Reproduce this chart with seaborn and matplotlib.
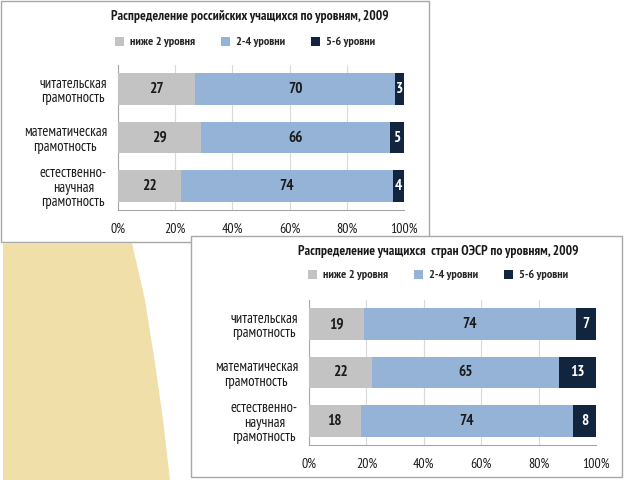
import matplotlib
matplotlib.use("Agg")
import matplotlib.pyplot as plt
import seaborn as sns
import pandas as pd
from matplotlib.patches import Rectangle, Polygon, Patch

# ---------------- data ----------------
categories = ["читательская\nграмотность",
              "математическая\nграмотность",
              "естественно-\nнаучная\nграмотность"]
level_names = ["ниже 2 уровня", "2-4 уровни", "5-6 уровни"]

russia_low = [27, 29, 22]
russia_mid = [70, 66, 74]
russia_high = [3, 5, 4]

oecd_low = [19, 22, 18]
oecd_mid = [74, 65, 74]
oecd_high = [7, 13, 8]

x_ticks = [0, 20, 40, 60, 80, 100]
x_tick_labels = ["0%", "20%", "40%", "60%", "80%", "100%"]

title_russia = "Распределение российских учащихся по уровням, 2009"
title_oecd = "Распределение учащихся  стран ОЭСР по уровням, 2009"

# ---------------- style ----------------
sns.set_style("white")
plt.rcParams["font.family"] = ["PT Sans Narrow", "Roboto Condensed",
                               "Liberation Sans", "DejaVu Sans"]

GREY = "#c3c3c3"
BLUE = "#95b3d7"
NAVY = "#11253f"
TEXT = "#1a1a1a"
AXCOL = "#a6a6a6"
GRID = "#d9d9d9"

W, H = 640, 480
fig = plt.figure(figsize=(W / 100, H / 100), dpi=100)


def fx(px):
    return px / W


def fy(py):
    return 1 - py / H


def add_box(x0, y0, x1, y1, z):
    r = Rectangle((fx(x0), fy(y1)), (x1 - x0) / W, (y1 - y0) / H,
                  transform=fig.transFigure, facecolor="white",
                  edgecolor="#a8a8a8", linewidth=1.0, zorder=z)
    fig.add_artist(r)


# panel frames and decoration
add_box(1, 1, 429, 242, -3)
beige = Polygon([(fx(3), fy(243)), (fx(132), fy(243)), (fx(145), fy(300)),
                 (fx(155), fy(363)), (fx(163), fy(420)), (fx(170), fy(480)),
                 (fx(3), fy(480))], closed=True, transform=fig.transFigure,
                facecolor="#f0dfa8", edgecolor="none", zorder=-2)
fig.add_artist(beige)
add_box(191, 236, 622, 477, -1)


def draw_panel(ax, low, mid, high):
    df = pd.DataFrame({"cat": categories, "low": low, "mid": mid, "high": high})
    df["c1"] = df["low"]
    df["c2"] = df["low"] + df["mid"]
    df["c3"] = df["c2"] + df["high"]
    for col, color in [("c3", NAVY), ("c2", BLUE), ("c1", GREY)]:
        sns.barplot(data=df, x=col, y="cat", orient="h", color=color,
                    saturation=1, width=0.66, linewidth=0, ax=ax, zorder=3)
    for i, r in df.iterrows():
        ax.text(r["low"] / 2, i, str(r["low"]), ha="center", va="center",
                fontsize=11, fontweight="bold", color=TEXT, zorder=5)
        ax.text(r["low"] + r["mid"] / 2, i, str(r["mid"]), ha="center", va="center",
                fontsize=11, fontweight="bold", color=TEXT, zorder=5)
        ax.text(r["c2"] + r["high"] / 2, i, str(r["high"]), ha="center", va="center",
                fontsize=11, fontweight="bold", color="white", zorder=5)
    ax.set_xlim(0, 100)
    ax.set_ylim(len(categories) - 0.5, -0.5)
    ax.set_xticks(x_ticks)
    ax.set_xticklabels(x_tick_labels, fontsize=10, color=TEXT)
    ax.set_yticks(range(len(categories)))
    ax.set_yticklabels(categories, fontsize=10.5, color=TEXT, linespacing=1.05)
    for t in ax.get_yticklabels():
        t.set_multialignment("center")
    ax.set_yticks([i - 0.5 for i in range(len(categories) + 1)], minor=True)
    ax.tick_params(axis="y", which="major", length=0, pad=8)
    ax.tick_params(axis="y", which="minor", length=4, width=0.8, color=AXCOL, direction="out")
    ax.tick_params(axis="x", which="major", length=4, width=0.8, color=AXCOL,
                   direction="out", pad=5)
    ax.set_xlabel("")
    ax.set_ylabel("")
    ax.set_axisbelow(True)
    ax.xaxis.grid(True, color=GRID, linewidth=0.8)
    ax.yaxis.grid(False)
    for s in ["top", "right"]:
        ax.spines[s].set_visible(False)
    for s in ["left", "bottom"]:
        ax.spines[s].set_color(AXCOL)
        ax.spines[s].set_linewidth(0.8)


handles = [Patch(facecolor=c, edgecolor="none") for c in (GREY, BLUE, NAVY)]

# top panel: Russia
ax1 = fig.add_axes([fx(118), fy(210), 286 / W, 145 / H])
draw_panel(ax1, russia_low, russia_mid, russia_high)
fig.text(fx(250), fy(16), title_russia, ha="center", va="center",
         fontsize=9.7, fontweight="bold", color=TEXT)
fig.legend(handles, level_names, loc="center left", bbox_to_anchor=(fx(115), fy(42)),
           ncol=3, frameon=False, prop={"size": 8.8, "weight": "bold"},
           handlelength=0.75, handleheight=0.75, handletextpad=0.5,
           columnspacing=2.1, borderpad=0, borderaxespad=0)

# bottom panel: OECD
ax2 = fig.add_axes([fx(309), fy(445), 287 / W, 145 / H])
draw_panel(ax2, oecd_low, oecd_mid, oecd_high)
fig.text(fx(438), fy(251), title_oecd, ha="center", va="center",
         fontsize=9.7, fontweight="bold", color=TEXT)
fig.legend(handles, level_names, loc="center left", bbox_to_anchor=(fx(308), fy(275)),
           ncol=3, frameon=False, prop={"size": 8.8, "weight": "bold"},
           handlelength=0.75, handleheight=0.75, handletextpad=0.5,
           columnspacing=2.1, borderpad=0, borderaxespad=0)

fig.savefig("out.png", dpi=100)
